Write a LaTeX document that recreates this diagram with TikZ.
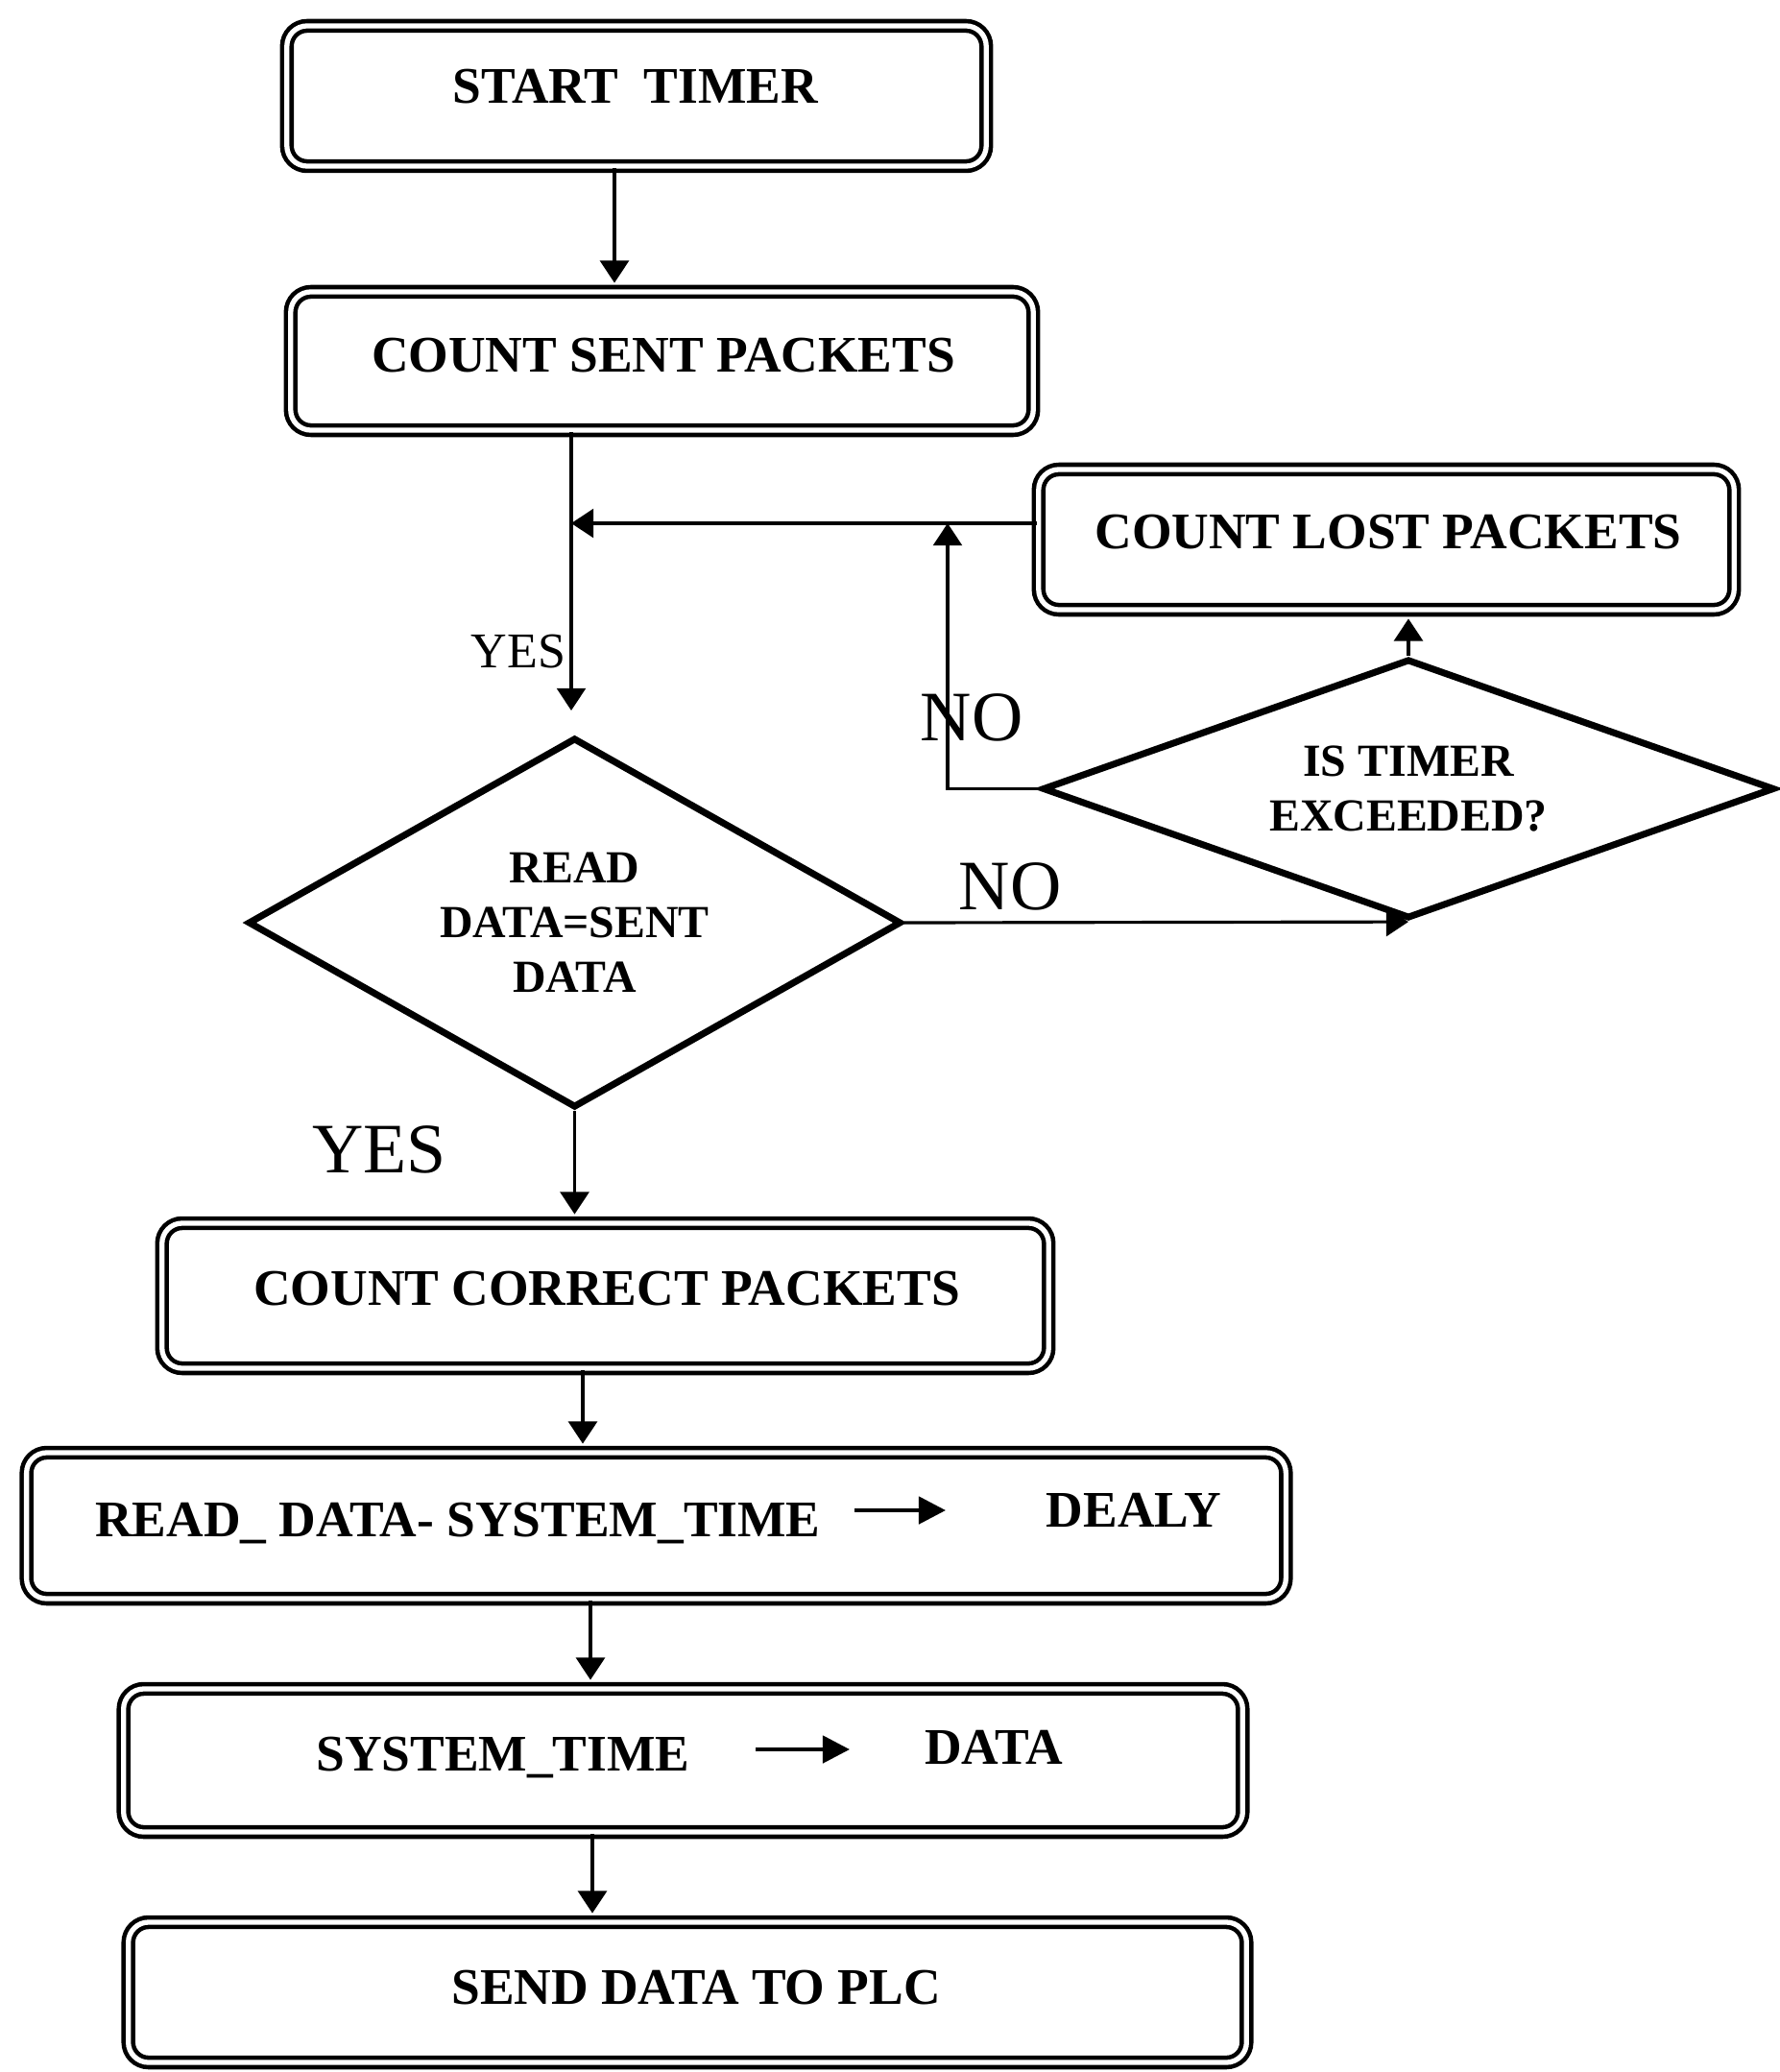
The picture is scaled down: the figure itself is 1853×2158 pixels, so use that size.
\documentclass[tikz,border=0pt]{standalone}
\usepackage{fontspec}
\setmainfont{Liberation Serif}
\usetikzlibrary{arrows.meta,shapes.geometric}
\begin{document}
\begin{tikzpicture}[x=0.01cm,y=-0.01cm,
  box/.style={draw, rectangle, rounded corners=6pt, line width=1.3pt, double, double distance=1.5pt, inner sep=0pt},
  dec/.style={draw, diamond, line width=2pt, inner sep=0pt, align=center, font=\bfseries\fontsize{13.6}{16.2}\selectfont},
  btxt/.style={anchor=base, inner sep=0pt, font=\bfseries\fontsize{15.2}{18}\selectfont},
  lbl/.style={anchor=base, inner sep=0pt},
  arr/.style={-{Triangle[length=6.6pt,width=8.5pt]}, line width=0.9pt},
  inarr/.style={-{Triangle[length=8pt,width=8pt]}, line width=1.3pt}]
\path[use as bounding box] (0,0) rectangle (1853,2158);

% boxes
\node[box, minimum width=7.28cm, minimum height=1.46cm] (start) at (663,100) {};
\node[box, minimum width=7.73cm, minimum height=1.44cm] (sent) at (689.5,376) {};
\node[box, minimum width=7.24cm, minimum height=1.46cm] (lost) at (1444,562) {};
\node[box, minimum width=9.23cm, minimum height=1.51cm] (correct) at (630.5,1349.5) {};
\node[box, minimum width=13.11cm, minimum height=1.52cm] (delay) at (683.5,1589) {};
\node[box, minimum width=11.65cm, minimum height=1.49cm] (systime) at (711.5,1833.5) {};
\node[box, minimum width=11.64cm, minimum height=1.46cm] (send) at (716,2075) {};

% decisions
\node[dec, shape aspect=1.77, minimum width=6.80cm, minimum height=3.85cm] (read) at (598.5,961) {READ\\DATA=SENT\\DATA};
\node[dec, shape aspect=2.82, minimum width=7.62cm, minimum height=2.70cm] (timer) at (1467,821.5) {IS TIMER\\EXCEEDED?};

% box texts
\node[btxt] (tstart) at (662,108) {START\ \ TIMER};
\node[btxt] (tsent) at (691,388) {COUNT SENT PACKETS};
\node[btxt] (tlost) at (1446,571) {COUNT LOST PACKETS};
\node[btxt] (tcorrect) at (632,1359) {COUNT CORRECT PACKETS};
\node[btxt] (tdelay) at (477,1600) {READ\_ DATA- SYSTEM\_TIME};
\node[btxt] (tdealy) at (1181,1590) {DEALY};
\node[btxt] (tsys) at (524,1844) {SYSTEM\_TIME};
\node[btxt] (tdata) at (1035,1837) {DATA};
\node[btxt] (tsend) at (725,2087) {SEND DATA TO PLC};

% in-text arrows
\coordinate (ia1s) at (890,1573);
\coordinate (ia1e) at (985,1573);
\coordinate (ia2s) at (787,1822);
\coordinate (ia2e) at (885,1822);
\draw[inarr] (ia1s) -- (ia1e);
\draw[inarr] (ia2s) -- (ia2e);

% labels
\node[lbl, font=\fontsize{14.8}{17}\selectfont] (lyes1) at (540,695) {YES};
\node[lbl, font=\fontsize{21}{24}\selectfont] (lno1) at (1012,771) {NO};
\node[lbl, font=\fontsize{21}{24}\selectfont] (lno2) at (1052,947) {NO};
\node[lbl, font=\fontsize{21}{24}\selectfont] (lyes2) at (395,1221) {YES};

% connectors
\coordinate (c1) at (640,0);
\coordinate (j1) at (595,545);
\coordinate (yestip) at (595,740);
\coordinate (n1) at (987,0);
\coordinate (c4) at (607,0);
\coordinate (c5) at (615,0);
\coordinate (c6) at (617,0);

\draw[arr, shorten >=2pt] (start.south -| c1) -- (sent.north -| c1);
\draw[arr] (sent.south -| j1) -- (yestip);
\draw[arr] (lost.west |- j1) -- (j1);
\draw[arr] (timer.west) -- (timer.west -| n1) -- (n1 |- j1);
\draw[arr, shorten >=2pt] (timer.north) -- (lost.south -| timer.north);
\draw[arr] (read.east) -- (timer.south);
\draw[arr, shorten >=2pt] (read.south) -- (correct.north -| read.south);
\draw[arr, shorten >=2pt] (correct.south -| c4) -- (delay.north -| c4);
\draw[arr, shorten >=2pt] (delay.south -| c5) -- (systime.north -| c5);
\draw[arr, shorten >=2pt] (systime.south -| c6) -- (send.north -| c6);
\end{tikzpicture}
\end{document}
